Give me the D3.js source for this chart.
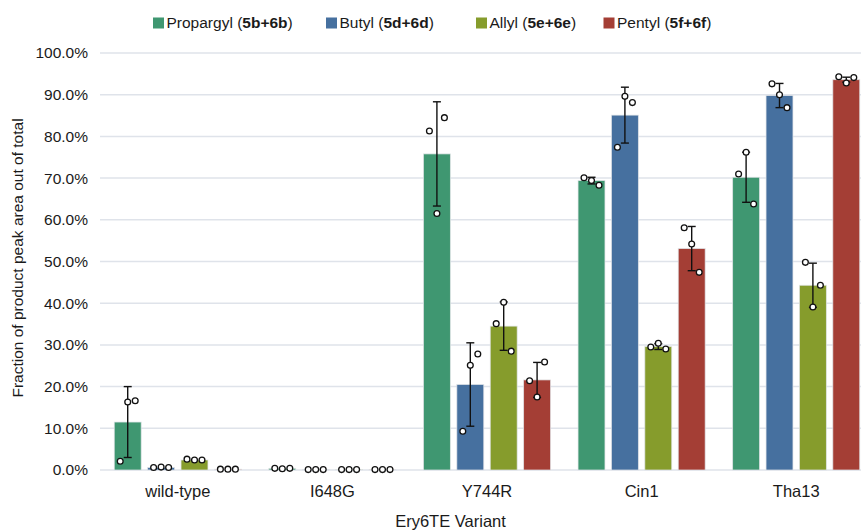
<!DOCTYPE html>
<html>
<head>
<meta charset="utf-8">
<script src="https://cdn.jsdelivr.net/npm/d3@7"></script>
<style>
  html, body { margin: 0; padding: 0; background: #ffffff; }
  svg { display: block; font-family: "Liberation Sans", Arial, Helvetica, sans-serif; }
</style>
</head>
<body>
<svg id="chart" width="861" height="531"></svg>
<script>
// ---- data ----
const variants = ["wild-type", "I648G", "Y744R", "Cin1", "Tha13"];
const seriesNames = ["Propargyl", "Butyl", "Allyl", "Pentyl"];
const seriesCodes = ["5b+6b", "5d+6d", "5e+6e", "5f+6f"];
const seriesColors = ["#3f9771", "#46709f", "#869c2c", "#a43e35"];

// bar heights (fraction), per series, in variant order
const propargylMeans = [0.115, 0.004, 0.758, 0.694, 0.702];
const butylMeans     = [0.006, 0.001, 0.205, 0.851, 0.898];
const allylMeans     = [0.024, 0.001, 0.345, 0.296, 0.443];
const pentylMeans    = [0.002, 0.001, 0.216, 0.531, 0.936];

// error bar half-lengths
const propargylErr = [0.085, 0.000, 0.125, 0.008, 0.060];
const butylErr     = [0.000, 0.000, 0.100, 0.067, 0.029];
const allylErr     = [0.001, 0.000, 0.058, 0.007, 0.053];
const pentylErr    = [0.000, 0.000, 0.042, 0.053, 0.006];

// replicate points (left, middle, right)
const propargylReps = [[0.021, 0.163, 0.166], [0.004, 0.003, 0.004], [0.813, 0.615, 0.845], [0.701, 0.694, 0.683], [0.710, 0.762, 0.638]];
const butylReps     = [[0.006, 0.007, 0.006], [0.001, 0.001, 0.001], [0.093, 0.251, 0.278], [0.774, 0.896, 0.881], [0.926, 0.900, 0.869]];
const allylReps     = [[0.026, 0.024, 0.024], [0.001, 0.001, 0.001], [0.351, 0.402, 0.285], [0.295, 0.304, 0.290], [0.498, 0.391, 0.443]];
const pentylReps    = [[0.002, 0.002, 0.002], [0.001, 0.001, 0.001], [0.214, 0.175, 0.259], [0.581, 0.542, 0.474], [0.943, 0.928, 0.941]];

const yTicks = [0, 0.1, 0.2, 0.3, 0.4, 0.5, 0.6, 0.7, 0.8, 0.9, 1.0];
const yTitle = "Fraction of product peak area out of total";
const xTitle = "Ery6TE Variant";

const means = [propargylMeans, butylMeans, allylMeans, pentylMeans];
const errs = [propargylErr, butylErr, allylErr, pentylErr];
const reps = [propargylReps, butylReps, allylReps, pentylReps];

// ---- layout ----
const svg = d3.select("#chart");
const x0 = d3.scaleBand().domain(variants).range([100.5, 873.5]).paddingInner(0).paddingOuter(0);
const gw = x0.bandwidth();
const x1 = d3.scaleBand().domain(seriesNames).range([13.75, gw - 13.75]).paddingInner(0.194).paddingOuter(0);
const y = d3.scaleLinear().domain([0, 1]).range([470, 53]);

// gridlines
svg.append("g").selectAll("line").data(yTicks).join("line")
  .attr("x1", 100).attr("x2", 861)
  .attr("y1", d => y(d)).attr("y2", d => y(d))
  .attr("stroke", "#dfe3ea").attr("stroke-width", 1.5);

// y axis labels
const yAxis = d3.axisLeft(y).tickValues(yTicks).tickSize(0).tickPadding(0)
  .tickFormat(d => (d * 100).toFixed(1) + "%");
const gy = svg.append("g").attr("transform", "translate(88,0)").call(yAxis);
gy.select(".domain").remove();
gy.selectAll("text").attr("font-size", "15.5px").attr("fill", "#1a1a1a")
  .attr("font-family", "'Liberation Sans', Arial, sans-serif");

// x axis labels
const xAxis = d3.axisBottom(x0).tickSize(0).tickPadding(0);
const gx = svg.append("g").attr("transform", "translate(0,480)").call(xAxis);
gx.select(".domain").remove();
gx.selectAll("text").attr("font-size", "16.5px").attr("fill", "#1a1a1a").attr("dy", "1.0em")
  .attr("font-family", "'Liberation Sans', Arial, sans-serif");

// bars
const groups = svg.append("g").selectAll("g").data(variants).join("g")
  .attr("transform", d => `translate(${x0(d)},0)`);

seriesNames.forEach((s, si) => {
  groups.append("rect")
    .attr("x", x1(s))
    .attr("width", x1.bandwidth())
    .attr("y", (d, vi) => y(means[si][vi]))
    .attr("height", (d, vi) => y(0) - y(means[si][vi]))
    .attr("fill", seriesColors[si])
    .attr("stroke", "rgba(225,228,232,0.9)")
    .attr("stroke-width", 0.8);
});

// error bars and points
seriesNames.forEach((s, si) => {
  const cx = x1(s) + x1.bandwidth() / 2;
  groups.each(function(d, vi) {
    const g = d3.select(this);
    const m = means[si][vi], e = errs[si][vi];
    if (e > 0.004) {
      const eb = g.append("g").attr("stroke", "#111").attr("stroke-width", 1.4);
      eb.append("line").attr("x1", cx).attr("x2", cx).attr("y1", y(m + e)).attr("y2", y(m - e));
      eb.append("line").attr("x1", cx - 4).attr("x2", cx + 4).attr("y1", y(m + e)).attr("y2", y(m + e));
      eb.append("line").attr("x1", cx - 4).attr("x2", cx + 4).attr("y1", y(m - e)).attr("y2", y(m - e));
    }
    const offs = [-7.5, 0, 7.5];
    g.selectAll(null).data(reps[si][vi]).join("circle")
      .attr("cx", (v, k) => cx + offs[k])
      .attr("cy", v => y(v))
      .attr("r", 2.9)
      .attr("fill", "#ffffff")
      .attr("stroke", "#111")
      .attr("stroke-width", 1.3);
  });
});

// axis titles
svg.append("text")
  .attr("transform", "translate(23,258) rotate(-90)")
  .attr("text-anchor", "middle")
  .attr("font-size", "15.5px").attr("fill", "#1a1a1a")
  .text(yTitle);

svg.append("text")
  .attr("x", 450.5).attr("y", 527)
  .attr("text-anchor", "middle")
  .attr("font-size", "16.5px").attr("fill", "#1a1a1a")
  .text(xTitle);

// legend
const legendX = [153, 326, 476, 603.5];
const legend = svg.append("g");
seriesNames.forEach((s, si) => {
  const lg = legend.append("g").attr("transform", `translate(${legendX[si]},0)`);
  lg.append("rect").attr("x", 0).attr("y", 17.5).attr("width", 11).attr("height", 11)
    .attr("fill", seriesColors[si]);
  const t = lg.append("text").attr("x", 13.5).attr("y", 28)
    .attr("font-size", "15.5px").attr("fill", "#1a1a1a");
  t.append("tspan").text(s + " (");
  t.append("tspan").attr("font-weight", "bold").text(seriesCodes[si]);
  t.append("tspan").text(")");
});
</script>
</body>
</html>
